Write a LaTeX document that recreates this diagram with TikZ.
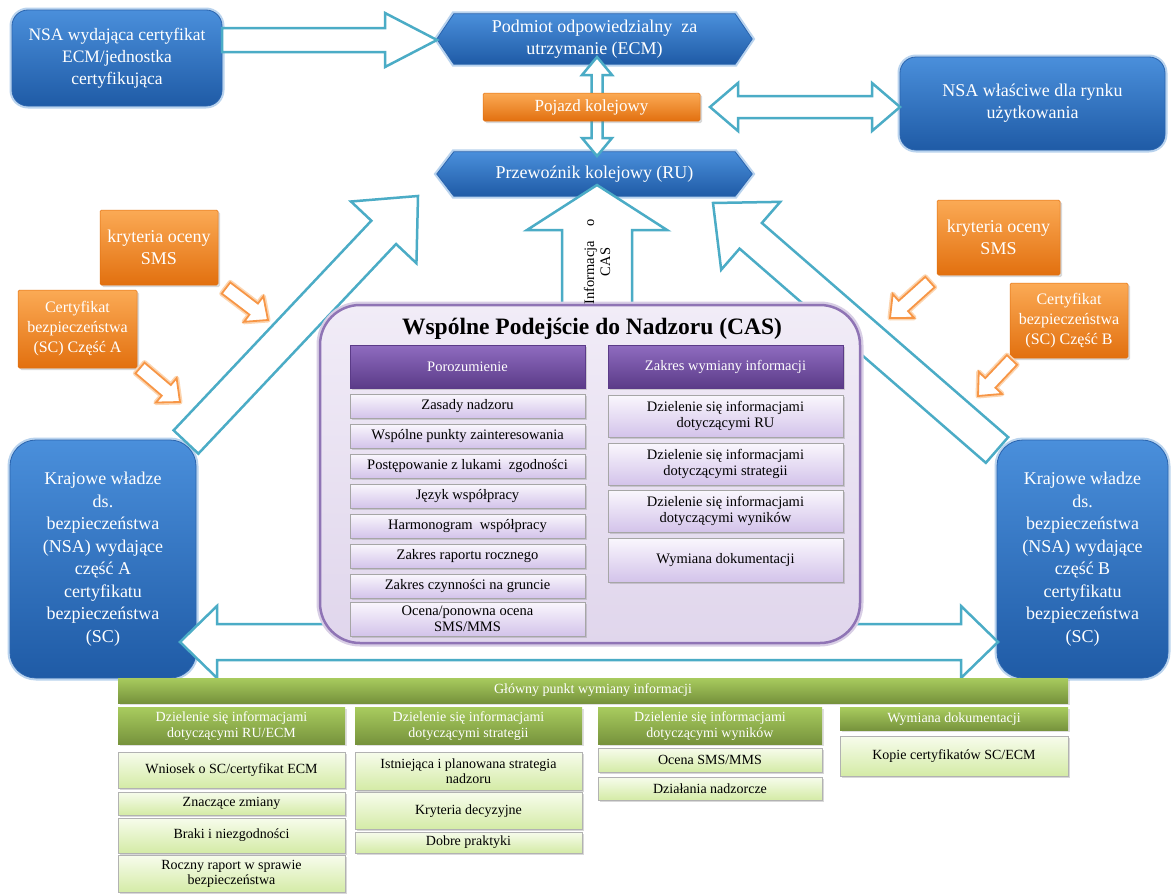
\documentclass[tikz,border=0pt]{standalone}
\usepackage{fontspec}
\setmainfont{Liberation Serif}
\newfontfamily\tnr{Liberation Serif}
\usetikzlibrary{shadows,calc}

\definecolor{teal5}{HTML}{4BACC6}
\definecolor{blueT}{HTML}{4A8FDB}
\definecolor{blueB}{HTML}{1F5BA6}
\definecolor{blueE}{HTML}{2A64AE}
\definecolor{blueG}{HTML}{B9D3EE}
\definecolor{orT}{HTML}{FBAA55}
\definecolor{orB}{HTML}{E2700F}
\definecolor{orE}{HTML}{F79646}
\definecolor{orG}{HTML}{FCD5B0}
\definecolor{purT}{HTML}{8F6CC0}
\definecolor{purB}{HTML}{5B3B88}
\definecolor{lavT}{HTML}{FAF7FD}
\definecolor{lavB}{HTML}{D3C3EA}
\definecolor{casT}{HTML}{F1ECF7}
\definecolor{casB}{HTML}{E0D6EC}
\definecolor{casE}{HTML}{8F74B5}
\definecolor{grT}{HTML}{A8CB5E}
\definecolor{grB}{HTML}{76923C}
\definecolor{lgT}{HTML}{F7FCEC}
\definecolor{lgB}{HTML}{D4EBA6}

\newcommand{\fs}[2]{\tnr\fontsize{#1}{#2}\selectfont}

% single block arrow: [style]{x1}{y1}{x2}{y2}{shaft half width}{head half width}{head length}
\newcommand{\sarrow}[8][]{%
  \pgfmathsetmacro{\ArA}{atan2(-(#5-#3),#4-#2)}%
  \pgfmathsetmacro{\ArL}{100*veclen((#4-#2)/100,(#5-#3)/100)}%
  \pgfmathsetmacro{\ArN}{\ArL-#8}%
  \begin{scope}[shift={(#2,#3)},rotate=\ArA]
    \path[#1] (0,-#6) -- (\ArN,-#6) -- (\ArN,-#7) -- (\ArL,0) -- (\ArN,#7) -- (\ArN,#6) -- (0,#6) -- cycle;
  \end{scope}}
% double block arrow
\newcommand{\darrow}[8][]{%
  \pgfmathsetmacro{\ArA}{atan2(-(#5-#3),#4-#2)}%
  \pgfmathsetmacro{\ArL}{100*veclen((#4-#2)/100,(#5-#3)/100)}%
  \pgfmathsetmacro{\ArN}{\ArL-#8}%
  \begin{scope}[shift={(#2,#3)},rotate=\ArA]
    \path[#1] (0,0) -- (#8,#7) -- (#8,#6) -- (\ArN,#6) -- (\ArN,#7) -- (\ArL,0) -- (\ArN,-#7) -- (\ArN,-#6) -- (#8,-#6) -- (#8,-#7) -- cycle;
  \end{scope}}

\tikzset{
  every node/.style={inner sep=2pt},
  sz/.style 2 args={minimum width=#1pt, minimum height=#2pt},
  bluebox/.style={draw=blueE, line width=0.8pt, top color=blueT, bottom color=blueB,
     text=white, align=center, preaction={draw=blueG, line width=5pt}},
  orbox/.style={draw=orB, line width=0.5pt, top color=orT, bottom color=orB, text=white,
     align=center, rounded corners=1.5pt, drop shadow={shadow xshift=2pt, shadow yshift=-2pt, opacity=0.3}},
  purhead/.style={draw=purB, line width=0.4pt, top color=purT, bottom color=purB, text=white,
     align=center, font=\fs{14.5}{16}, drop shadow={shadow xshift=1.5pt, shadow yshift=-1.5pt, opacity=0.3}},
  puritem/.style={draw=gray!70, line width=0.5pt, top color=lavT, bottom color=lavB, text=black,
     align=center, font=\fs{14.5}{16.5}, drop shadow={shadow xshift=1.5pt, shadow yshift=-1.5pt, opacity=0.3}},
  grhead/.style={top color=grT, bottom color=grB, text=white, align=center, font=\fs{14}{16},
     drop shadow={shadow xshift=1.5pt, shadow yshift=-1.5pt, opacity=0.25}},
  gritem/.style={draw=gray!60, line width=0.5pt, top color=lgT, bottom color=lgB, text=black,
     align=center, font=\fs{14}{15.5}, drop shadow={shadow xshift=1.5pt, shadow yshift=-1.5pt, opacity=0.3}},
  tealarr/.style={draw=teal5, fill=white, line width=2.5pt, line join=miter},
  orglow/.style={draw=orG, line width=5pt, line join=round},
  orarr/.style={draw=orE, fill=white, line width=1.8pt, line join=miter},
}

\begin{document}
\begin{tikzpicture}[x=1pt,y=-1pt]
\useasboundingbox (0,0) rectangle (1171,894);
\fill[white] (0,0) rectangle (1171,894);

% ---------- top blue boxes ----------
\node[bluebox, rounded corners=16pt, sz={210}{96}, font=\fs{17.5}{22}] (tl) at (117,58)
  {NSA wydająca certyfikat\\ECM/jednostka\\certyfikująca};
\node[bluebox, rounded corners=16pt, sz={265}{93}, font=\fs{18}{22}] (nsar) at (1032.5,103.5)
  {NSA właściwe dla rynku\\użytkowania};

% ECM chevron
\node[sz={315}{50}] (ecmshape) at (594.5,39) {};
\path[bluebox] (ecmshape.west) -- ([xshift=17pt]ecmshape.north west) -- ([xshift=-17pt]ecmshape.north east)
  -- (ecmshape.east) -- ([xshift=-17pt]ecmshape.south east) -- ([xshift=17pt]ecmshape.south west) -- cycle;
\node[text=white, align=center, font=\fs{18}{22}] (ecm) at (ecmshape) {Podmiot odpowiedzialny\ \ za\\utrzymanie (ECM)};

% RU chevron
\node[sz={315}{44}] (rushape) at (594.5,174) {};
\path[bluebox] (rushape.west) -- ([xshift=17pt]rushape.north west) -- ([xshift=-17pt]rushape.north east)
  -- (rushape.east) -- ([xshift=-17pt]rushape.south east) -- ([xshift=17pt]rushape.south west) -- cycle;
\node[text=white, align=center, font=\fs{18}{22}] (ru) at (rushape) {Przewoźnik kolejowy (RU)};

% arrows at the top
\sarrow[tealarr]{222}{40}{437}{40}{12}{27}{52}
\darrow[tealarr]{597}{57}{597}{156}{5.5}{15}{18}
\node[orbox, sz={217}{28}, font=\fs{17}{20}] (poj) at (591.5,107) {Pojazd kolejowy};
\darrow[tealarr]{710}{107}{900}{107}{11}{24}{28}

% ---------- orange boxes ----------
\node[orbox, sz={118}{75}, font=\fs{18}{22}] (krL) at (159,247.5) {kryteria oceny\\SMS};
\node[orbox, sz={119}{78}, font=\fs{16}{20}] (certA) at (77.5,329) {Certyfikat\\bezpieczeństwa\\(SC) Część A};
\node[orbox, sz={123}{75}, font=\fs{18}{22}] (krR) at (998.5,237.5) {kryteria oceny\\SMS};
\node[orbox, sz={118}{75}, font=\fs{16}{20}] (certB) at (1069,320.5) {Certyfikat\\bezpieczeństwa\\(SC) Część B};

\sarrow[orglow]{226}{288}{268}{320}{7}{16}{18}
\sarrow[orarr]{226}{288}{268}{320}{7}{16}{18}
\sarrow[orglow]{140}{368}{180}{402}{7}{16}{18}
\sarrow[orarr]{140}{368}{180}{402}{7}{16}{18}
\sarrow[orglow]{930}{282}{890}{318}{7}{16}{18}
\sarrow[orarr]{930}{282}{890}{318}{7}{16}{18}
\sarrow[orglow]{1012}{360}{978}{396}{7}{16}{18}
\sarrow[orarr]{1012}{360}{978}{396}{7}{16}{18}

% ---------- NSA A / B ----------
\node[bluebox, rounded corners=26pt, sz={186}{238}, font=\fs{18}{22.5}] (nsaA) at (103,559)
  {Krajowe władze\\ds.\\bezpieczeństwa\\(NSA) wydające\\część A\\certyfikatu\\bezpieczeństwa\\(SC)};
\node[bluebox, rounded corners=26pt, sz={171}{238}, font=\fs{18}{22.5}] (nsaB) at (1082.5,559)
  {Krajowe władze\\ds.\\bezpieczeństwa\\(NSA) wydające\\część B\\certyfikatu\\bezpieczeństwa\\(SC)};

% big teal arrows
\sarrow[tealarr]{186}{442}{418}{196}{17}{45}{50}
\sarrow[tealarr]{997}{450}{713}{203}{17}{45}{50}
\sarrow[tealarr]{597}{315}{597}{185}{35}{70}{45}
\darrow[tealarr]{180}{642}{998}{642}{18}{36}{37}

% ---------- CAS ----------
\draw[line width=7pt, casE!35, rounded corners=40pt] (320,305) rectangle (860,643);
\node[draw=casE, line width=2.5pt, rounded corners=40pt, top color=casT, bottom color=casB, sz={540}{338}] (cas) at (590,474) {};
\node[font=\fs{23.5}{26}\bfseries] (castitle) at (592,329) {Wspólne Podejście do Nadzoru (CAS)};
\node[rotate=90, align=center, font=\fs{14.5}{16}] (info) at (597,262) {Informacja\quad o\\CAS};

\node[purhead, sz={235}{43}] (porh) at (467.5,366.5) {Porozumienie};
\node[puritem, sz={235}{24}] (p1) at (467.5,406) {Zasady nadzoru};
\node[puritem, sz={235}{24}] (p2) at (467.5,436) {Wspólne punkty zainteresowania};
\node[puritem, sz={235}{24}] (p3) at (467.5,466) {Postępowanie z lukami\ \ zgodności};
\node[puritem, sz={235}{24}] (p4) at (467.5,496) {Język współpracy};
\node[puritem, sz={235}{24}] (p5) at (467.5,526) {Harmonogram\ \ współpracy};
\node[puritem, sz={235}{24}] (p6) at (467.5,556) {Zakres raportu rocznego};
\node[puritem, sz={235}{24}] (p7) at (467.5,586) {Zakres czynności na gruncie};
\node[puritem, sz={235}{34}] (p8) at (467.5,619) {Ocena/ponowna ocena\\SMS/MMS};

\node[purhead, sz={235}{43}] (zakh) at (725.5,366.5) {Zakres wymiany informacji};
\node[puritem, sz={235}{42}] (z1) at (725.5,416) {Dzielenie się informacjami\\dotyczącymi RU};
\node[puritem, sz={235}{42}] (z2) at (725.5,464) {Dzielenie się informacjami\\dotyczącymi strategii};
\node[puritem, sz={235}{42}] (z3) at (725.5,511) {Dzielenie się informacjami\\dotyczącymi wyników};
\node[puritem, sz={235}{44}] (z4) at (725.5,560) {Wymiana dokumentacji};

% ---------- green section ----------
\node[grhead, sz={950}{25}] (gbar) at (593,690.5) {Główny punkt wymiany informacji};
\node[grhead, sz={227}{37}] (g1) at (231.5,726) {Dzielenie się informacjami\\dotyczącymi RU/ECM};
\node[grhead, sz={227}{37}] (g2) at (468.5,726) {Dzielenie się informacjami\\dotyczącymi strategii};
\node[grhead, sz={224}{37}] (g3) at (710,726) {Dzielenie się informacjami\\dotyczącymi wyników};
\node[grhead, sz={228}{23}] (g4) at (954,719) {Wymiana dokumentacji};

\node[gritem, sz={227}{36}] (c11) at (231.5,770) {Wniosek o SC/certyfikat ECM};
\node[gritem, sz={227}{23}] (c12) at (231.5,803.5) {Znaczące zmiany};
\node[gritem, sz={227}{35}] (c13) at (231.5,835.5) {Braki i niezgodności};
\node[gritem, sz={227}{37}] (c14) at (231.5,874) {Roczny raport w sprawie\\bezpieczeństwa};
\node[gritem, sz={227}{38}] (c21) at (468.5,771) {Istniejąca i planowana strategia\\nadzoru};
\node[gritem, sz={227}{37}] (c22) at (468.5,811) {Kryteria decyzyjne};
\node[gritem, sz={227}{21}] (c23) at (468.5,842.5) {Dobre praktyki};
\node[gritem, sz={224}{24}] (c31) at (710,760) {Ocena SMS/MMS};
\node[gritem, sz={224}{23}] (c32) at (710,788.5) {Działania nadzorcze};
\node[gritem, sz={228}{40}] (c41) at (954,756) {Kopie certyfikatów SC/ECM};
\end{tikzpicture}
\end{document}
